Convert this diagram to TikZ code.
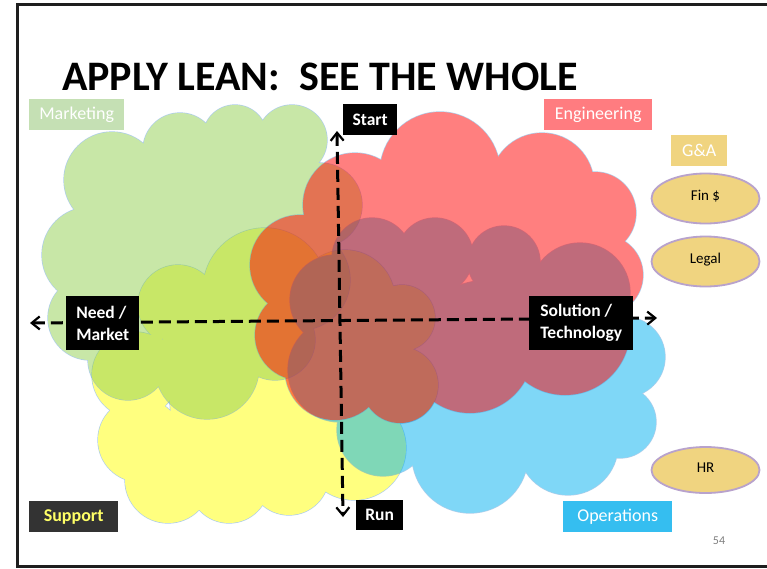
\documentclass[tikz,border=0pt]{standalone}
\usepackage{fontspec}
\setmainfont{Carlito}
\usetikzlibrary{shapes.geometric,arrows.meta}
\definecolor{cyel}{HTML}{FFFF00}
\definecolor{cgrn}{HTML}{92D050}
\definecolor{cblu}{HTML}{00B0F0}
\definecolor{cred}{HTML}{FF0000}
\definecolor{cedge}{HTML}{5B9BD5}
\definecolor{mktbox}{HTML}{C5E0B4}
\definecolor{engbox}{HTML}{FF7C80}
\definecolor{gabox}{HTML}{F0D480}
\definecolor{supbox}{HTML}{333333}
\definecolor{suptxt}{HTML}{FFFF66}
\definecolor{opsbox}{HTML}{35BEF0}
\definecolor{ellfill}{HTML}{F0D480}
\definecolor{elledge}{HTML}{B8A2CC}
\definecolor{framec}{HTML}{1E1E1E}
\begin{document}
\begin{tikzpicture}[x=1pt,y=-1pt,
  cloudgroup/.style={transparency group, opacity=0.5},
  cloudedge/.style={draw=cedge, line width=1.3pt},
  tag/.style={inner sep=0pt, anchor=north west, text=white, font=\fontsize{18}{21}\selectfont},
  axtag/.style={tag, fill=black, font=\bfseries\fontsize{17.5}{22}\selectfont, align=left},
  dept/.style={ellipse, draw=elledge, line width=1.8pt, fill=ellfill, minimum width=108pt, minimum height=50pt, inner sep=0pt, font=\fontsize{15}{18}\selectfont},
  axisline/.style={line width=3pt, dash pattern=on 12pt off 6pt,
    {Straight Barb[length=8pt,width=13pt,line width=2.2pt]}-{Straight Barb[length=8pt,width=13pt,line width=2.2pt]}}
]
\useasboundingbox (0,0) rectangle (767,568);
\fill[white] (0,0) rectangle (767,568);

% frame
\draw[line width=2.5pt, framec] (800,4.7) -- (17.3,4.7) -- (17.3,566.3) -- (800,566.3);

% title
\node[anchor=base west, inner sep=0pt, font=\bfseries\fontsize{42}{46}\selectfont] (title) at (62,90) {APPLY LEAN:\ \ SEE THE WHOLE};

% cloud outlines (as saved paths)
\path[save path=\cloudY]
  (265,290) circle[radius=62pt] (178,305) circle[radius=40pt]
  (135,375) circle[radius=43pt] (140,440) circle[radius=42pt]
  (168,480) circle[radius=43pt] (229,483) circle[radius=40pt]
  (289,475) circle[radius=40pt] (354,448) circle[radius=52pt]
  (345,300) circle[radius=50pt] (402,318) circle[radius=33pt]
  (400,385) circle[radius=38pt] (260,400) circle[radius=90pt]
  (350,380) circle[radius=50pt] (215,360) circle[radius=60pt];
\path[save path=\cloudG]
  (112,180) circle[radius=48pt] (180,150) circle[radius=37pt]
  (235,137) circle[radius=32pt] (292,140) circle[radius=35pt]
  (90,255) circle[radius=48pt] (90,318) circle[radius=42pt]
  (128,360) circle[radius=40pt] (207,367) circle[radius=52pt]
  (275,340) circle[radius=40pt] (320,205) circle[radius=42pt]
  (200,240) circle[radius=100pt] (300,280) circle[radius=50pt]
  (150,280) circle[radius=60pt] (260,190) circle[radius=50pt];
\path[save path=\cloudB]
  (372,258) circle[radius=40pt] (435,256) circle[radius=38pt]
  (504,262) circle[radius=36pt] (580,293) circle[radius=50pt]
  (625,357) circle[radius=40pt] (620,422) circle[radius=36pt]
  (568,445) circle[radius=50pt] (470,455) circle[radius=58pt]
  (383,430) circle[radius=46pt] (340,370) circle[radius=52pt]
  (335,300) circle[radius=45pt] (490,370) circle[radius=90pt]
  (420,330) circle[radius=60pt] (540,340) circle[radius=60pt]
  (400,380) circle[radius=40pt] (590,390) circle[radius=45pt];
\path[save path=\cloudR]
  (355,205) circle[radius=52pt] (440,172) circle[radius=60pt]
  (542,185) circle[radius=52pt] (595,213) circle[radius=41pt]
  (603,275) circle[radius=40pt] (565,330) circle[radius=65pt]
  (470,350) circle[radius=63pt] (400,385) circle[radius=38pt]
  (335,370) circle[radius=50pt] (300,335) circle[radius=45pt]
  (300,265) circle[radius=50pt] (470,260) circle[radius=95pt]
  (380,300) circle[radius=60pt] (560,250) circle[radius=50pt];

% yellow cloud (Support)
\begin{scope}[cloudgroup]
  \path[use path=\cloudY, cloudedge];
  \path[use path=\cloudY, fill=cyel];
\end{scope}
% green cloud (Marketing)
\begin{scope}[cloudgroup]
  \path[use path=\cloudG, cloudedge];
  \path[use path=\cloudG, fill=cgrn];
\end{scope}
% blue cloud (Operations)
\begin{scope}[cloudgroup]
  \path[use path=\cloudB, cloudedge];
  \path[use path=\cloudB, fill=cblu];
\end{scope}
% red cloud (Engineering)
\begin{scope}[cloudgroup]
  \path[use path=\cloudR, cloudedge];
  \path[use path=\cloudR, fill=cred];
\end{scope}

% axes
\coordinate (vtop) at (337,131);
\coordinate (vbot) at (343,517);
\coordinate (hleft) at (30,323);
\coordinate (hright) at (657,318);
\draw[axisline] (vtop) -- (vbot);
\draw[axisline] (hleft) -- (hright);

% department tags
\node[tag, fill=mktbox, minimum width=95pt, minimum height=31pt] (mkt) at (29,99) {Marketing};
\node[tag, fill=engbox, minimum width=108pt, minimum height=31pt] (eng) at (544,99) {Engineering};
\node[tag, fill=gabox, minimum width=56pt, minimum height=31pt] (ga) at (671,135) {G\&A};
\node[tag, fill=supbox, text=suptxt, font=\bfseries\fontsize{18}{21}\selectfont, minimum width=89pt, minimum height=31pt] (sup) at (29,501) {Support};
\node[tag, fill=opsbox, minimum width=109pt, minimum height=31pt] (ops) at (563,501) {Operations};

% axis tags
\node[axtag, minimum width=54pt, minimum height=31pt] (start) at (343,104) {Start};
\node[axtag, minimum width=47pt, minimum height=30pt] (run) at (356,500) {Run};
\node[axtag, minimum width=73pt, minimum height=54pt] (need) at (66,296) {Need /\\Market};
\node[axtag, minimum width=104pt, minimum height=54pt] (sol) at (529,296) {Solution /\\Technology};

% G&A ellipses
\node[dept] (fin) at (705.5,198.5) {\raisebox{5.5pt}{Fin \$}};
\node[dept] (legal) at (705.5,261.5) {\raisebox{5.5pt}{Legal}};
\node[dept, minimum height=46pt] (hr) at (705.5,470) {\raisebox{5pt}{HR}};

% page number
\node[text=black!50, font=\fontsize{12}{14}\selectfont, inner sep=0pt] (pnum) at (719,540.5) {54};
\end{tikzpicture}
\end{document}
